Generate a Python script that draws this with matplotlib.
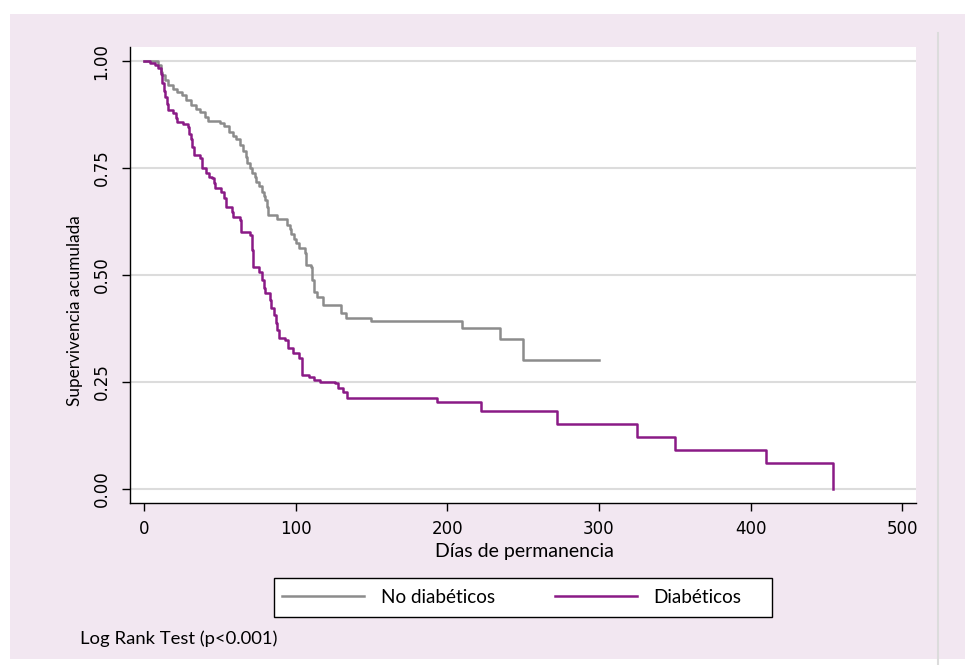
import matplotlib
matplotlib.use("Agg")
import matplotlib.pyplot as plt
from matplotlib.patches import Rectangle
from matplotlib.lines import Line2D

# Kaplan-Meier steps (time in days, survival after the drop)
t_no_diab = [0, 9, 11, 12, 14, 16, 19, 22, 25, 28, 31, 34, 37, 40, 42, 50, 53, 56,
             59, 61, 63, 65, 67, 68, 70, 71, 73, 74, 76, 78, 79, 80, 81, 82, 88, 94,
             96, 97, 99, 100, 102, 106, 107, 110, 111, 112, 114, 118, 130, 133, 150,
             210, 235, 250, 300]
s_no_diab = [1.0, 0.99, 0.975, 0.967, 0.955, 0.945, 0.935, 0.928, 0.92, 0.91, 0.897,
             0.888, 0.88, 0.87, 0.861, 0.856, 0.848, 0.835, 0.826, 0.817, 0.805, 0.79,
             0.775, 0.761, 0.75, 0.738, 0.728, 0.718, 0.707, 0.695, 0.685, 0.675, 0.66,
             0.64, 0.632, 0.617, 0.607, 0.597, 0.585, 0.574, 0.562, 0.551, 0.523, 0.519,
             0.488, 0.461, 0.449, 0.43, 0.41, 0.399, 0.393, 0.377, 0.351, 0.301, 0.301]

t_diab = [0, 4, 7, 9, 11, 12, 13, 14, 15, 16, 19, 21, 22, 26, 29, 30, 31, 32, 33, 37,
          38, 41, 43, 45, 46, 47, 51, 53, 54, 58, 59, 63, 64, 70, 71, 72, 76, 78, 79,
          80, 83, 84, 86, 87, 88, 89, 93, 95, 98, 102, 104, 109, 112, 116, 126, 128,
          131, 134, 193, 222, 272, 325, 350, 410, 454]
s_diab = [1.0, 0.995, 0.991, 0.983, 0.971, 0.95, 0.93, 0.917, 0.9, 0.886, 0.878, 0.866,
          0.858, 0.854, 0.846, 0.83, 0.819, 0.8, 0.78, 0.773, 0.749, 0.738, 0.73, 0.726,
          0.715, 0.703, 0.695, 0.68, 0.66, 0.648, 0.636, 0.628, 0.601, 0.593, 0.558,
          0.519, 0.508, 0.488, 0.47, 0.457, 0.442, 0.422, 0.407, 0.387, 0.371, 0.352,
          0.348, 0.329, 0.317, 0.305, 0.266, 0.262, 0.255, 0.249, 0.247, 0.235, 0.227,
          0.212, 0.202, 0.181, 0.151, 0.121, 0.091, 0.06, 0.0]

x_ticks = [0, 100, 200, 300, 400, 500]
y_ticks = [0, 0.25, 0.5, 0.75, 1.0]
y_tick_labels = ["0.00", "0.25", "0.50", "0.75", "1.00"]
series_labels = ["No diabéticos", "Diabéticos"]

GRAY = "#8c8c8c"
PURPLE = "#8a1a86"
PINK = "#f2e7f1"
TXT_FONT = "Lato"

W, H = 965, 665
fig = plt.figure(figsize=(W / 100, H / 100), dpi=100)
fig.patch.set_facecolor("white")

# pink panel behind everything
fig.patches.append(Rectangle((10 / W, 1 - 659 / H), 1 - 10 / W, (659 - 14) / H,
                             transform=fig.transFigure, facecolor=PINK,
                             edgecolor="none", zorder=0))
fig.lines.append(Line2D([938 / W, 938 / W], [0, 1 - 33 / H], transform=fig.transFigure,
                        color="#dcdcdc", lw=1.5, zorder=1))

ax = fig.add_axes([130 / W, 1 - 503 / H, (916 - 130) / W, (503 - 47) / H])
ax.set_zorder(2)
ax.set_facecolor("white")

ax.step(t_no_diab, s_no_diab, where="post", color=GRAY, lw=1.8, zorder=3)
ax.step(t_diab, s_diab, where="post", color=PURPLE, lw=1.8, zorder=4)

ax.set_xlim(-9.2, 509)
ax.set_ylim(-0.033, 1.033)
ax.set_xticks(x_ticks)
ax.set_yticks(y_ticks)
ax.set_yticklabels(y_tick_labels, rotation=90, va="center")
ax.tick_params(axis="both", labelsize=12, length=6, width=1, color="black")
ax.tick_params(axis="y", pad=8)
ax.tick_params(axis="x", pad=6)

ax.grid(axis="y", color="#dcdcdc", lw=1.5, zorder=1)
ax.set_axisbelow(True)
for side in ["top", "right"]:
    ax.spines[side].set_visible(False)
for side in ["left", "bottom"]:
    ax.spines[side].set_color("black")
    ax.spines[side].set_linewidth(1)

fig.text(524 / W, 1 - 551 / H, "Días de permanencia", ha="center", va="center",
         fontsize=14, family=TXT_FONT, zorder=3)
fig.text(75 / W, 1 - 311 / H, "Supervivencia acumulada", ha="center", va="center",
         rotation=90, fontsize=12.3, family=TXT_FONT, zorder=3)

# legend box drawn separately: the content sits left of the box centre
fig.patches.append(Rectangle((274 / W, 1 - 617 / H), (772 - 274) / W, (617 - 578) / H,
                             transform=fig.transFigure, facecolor="white",
                             edgecolor="black", lw=1, zorder=2))
handles = [Line2D([], [], color=GRAY, lw=1.8), Line2D([], [], color=PURPLE, lw=1.8)]
leg = fig.legend(handles, series_labels, ncol=2, loc="center",
                 bbox_to_anchor=(512 / W, 1 - 597.5 / H), frameon=False,
                 handlelength=4.3, columnspacing=3.2, handletextpad=0.9,
                 borderpad=0.0, prop={"family": TXT_FONT, "size": 13.6})
leg.set_zorder(3)

fig.text(80 / W, 1 - 639 / H, "Log Rank Test (p<0.001)", ha="left", va="center",
         fontsize=13.3, family=TXT_FONT, zorder=3)

fig.savefig("out.png", dpi=100)
